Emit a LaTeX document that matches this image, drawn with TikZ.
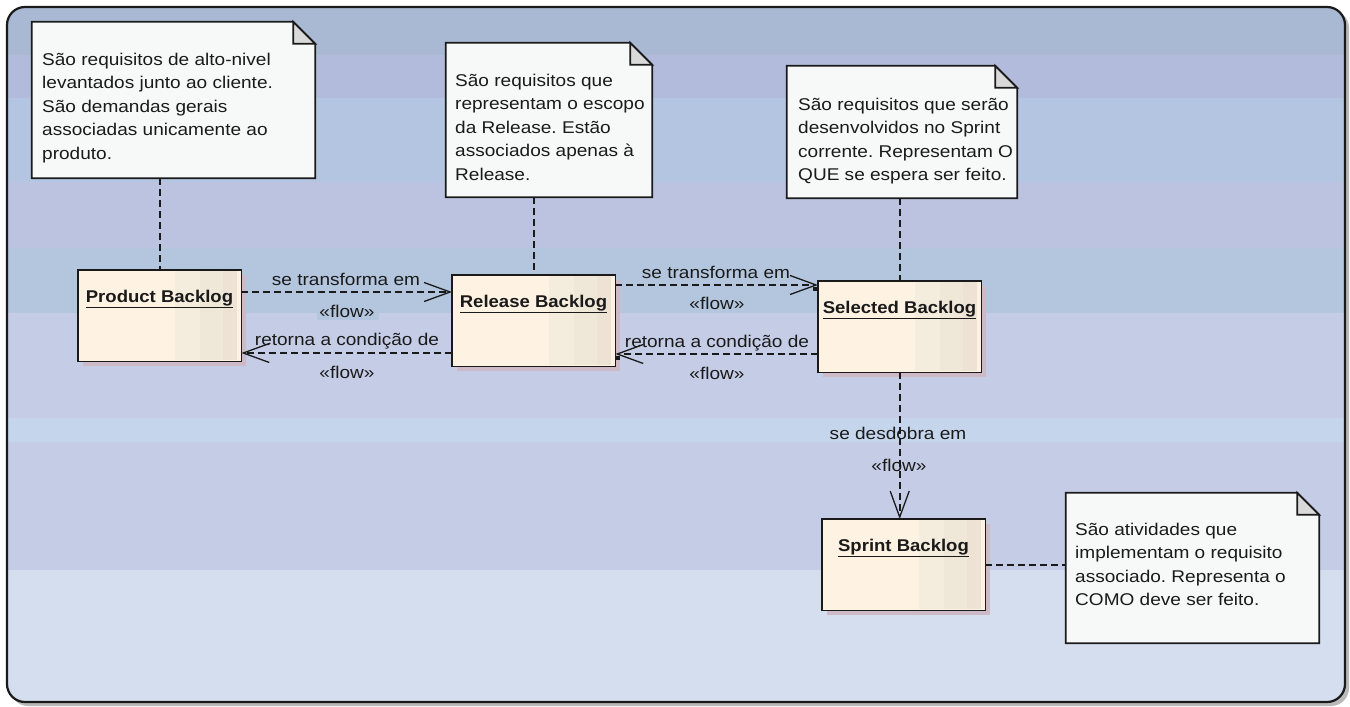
\documentclass[tikz,border=0pt]{standalone}
\usepackage{fontspec}
\setmainfont{Liberation Sans}
\newfontfamily\txtf[FakeStretch=1.12]{Liberation Sans}
\newfontfamily\ttlf[FakeStretch=1.09]{Liberation Sans}
\usetikzlibrary{arrows.meta,fit}
\frenchspacing
\definecolor{bandA}{HTML}{A9B9D3}
\definecolor{bandB}{HTML}{B2BBDB}
\definecolor{bandC}{HTML}{B3C5E1}
\definecolor{bandD}{HTML}{BCC3E0}
\definecolor{bandE}{HTML}{B3C6DE}
\definecolor{bandF}{HTML}{C5CCE6}
\definecolor{bandG}{HTML}{C5D5EC}
\definecolor{bandH}{HTML}{D5DEEF}
\definecolor{creamc}{HTML}{FEF2E2}
\definecolor{stripA}{HTML}{F4ECDC}
\definecolor{stripB}{HTML}{EFE8D8}
\definecolor{stripC}{HTML}{EDE2D4}
\definecolor{shadowc}{HTML}{CDBAC6}
\definecolor{notefill}{HTML}{F7F9F9}
\definecolor{foldc}{HTML}{D9D9D9}
\definecolor{inkc}{HTML}{1A1A1A}
\tikzset{
  dsh/.style={draw=inkc, line width=1.7pt, dash pattern=on 7pt off 4pt},
  flowarr/.style={dsh, -{Straight Barb[length=26pt,width=19pt,line width=1.3pt]}},
  boxst/.style={inner sep=0pt, minimum width=163pt, minimum height=91pt, fill=creamc, draw=none},
  ttlst/.style={inner sep=0pt, font=\ttlf\bfseries\fontsize{17}{20}\selectfont, text=inkc},
  lbl/.style={inner sep=0pt, anchor=base, font=\txtf\fontsize{17}{20}\selectfont, text=inkc},
  notest/.style={draw=inkc, line width=1.7pt, fill=notefill},
  ntxt/.style={inner sep=0pt, anchor=base west, text=inkc}
}
\newcommand\ntext[1]{\parbox[t]{300pt}{\txtf\fontsize{17}{23.6}\selectfont\raggedright\frenchspacing #1}}
\newcommand\bklog[4]{%
  \fill[shadowc] (#2+5,#3+5) rectangle (#2+168,#3+96);
  \node[boxst, anchor=north west] (#1) at (#2,#3) {};
  \fill[stripA] (#2+97,#3+1) rectangle (#2+122,#3+90);
  \fill[stripB] (#2+122,#3+1) rectangle (#2+145,#3+90);
  \fill[stripC] (#2+145,#3+1) rectangle (#2+159,#3+90);
  \draw[draw=inkc, line width=1.7pt] (#1.north west) rectangle (#1.south east);
  \node[ttlst, anchor=base] (#1t) at (#2+81.5,#3+32) {\underline{#4}};
}
\newcommand\notebox[5]{%
  \node[fit={(#2,#3) (#4,#5)}, inner sep=0pt] (#1) {};
  \draw[notest] (#1.north west) -- ([xshift=-22pt]#1.north east) -- ([yshift=-22pt]#1.north east) -- (#1.south east) -- (#1.south west) -- cycle;
  \filldraw[draw=inkc, line width=1.7pt, fill=foldc, line join=miter] ([xshift=-22pt]#1.north east) -- ([xshift=-22pt,yshift=-22pt]#1.north east) -- ([yshift=-22pt]#1.north east) -- cycle;
}
\begin{document}
\begin{tikzpicture}[x=1pt,y=-1pt]
\useasboundingbox (0,0) rectangle (1350,707);
% frame shadow
\fill[gray!55, rounded corners=18pt] (10,10) rectangle (1349,706);
\begin{scope}
\clip[rounded corners=18pt] (7,7) rectangle (1345,702);
\fill[bandA] (0,0) rectangle (1350,55);
\fill[bandB] (0,55) rectangle (1350,98);
\fill[bandC] (0,98) rectangle (1350,182);
\fill[bandD] (0,182) rectangle (1350,248);
\fill[bandE] (0,248) rectangle (1350,313);
\fill[bandF] (0,313) rectangle (1350,418);
\fill[bandG] (0,418) rectangle (1350,442);
\fill[bandF] (0,442) rectangle (1350,570);
\fill[bandH] (0,570) rectangle (1350,707);
\end{scope}
\draw[draw=inkc, line width=2.2pt, rounded corners=18pt] (7,7) rectangle (1345,702);

% notes
\notebox{n1}{32}{22}{315}{178}
\notebox{n2}{446}{43}{652}{197}
\notebox{n3}{787}{66}{1017}{198}
\notebox{n4}{1066}{493}{1319}{643}
\node[ntxt] (n1t) at (42,65) {\ntext{São requisitos de alto-nivel\\levantados junto ao cliente.\\São demandas gerais\\associadas unicamente ao\\produto.}};
\node[ntxt] (n2t) at (455,86) {\ntext{São requisitos que\\representam o escopo\\da Release. Estão\\associados apenas à\\Release.}};
\node[ntxt] (n3t) at (798,110) {\ntext{São requisitos que serão\\desenvolvidos no Sprint\\corrente. Representam O\\QUE se espera ser feito.}};
\node[ntxt] (n4t) at (1075,535) {\ntext{São atividades que\\implementam o requisito\\associado. Representa o\\COMO deve ser feito.}};

% backlogs
\bklog{pb}{78}{270}{Product Backlog}
\bklog{rb}{452}{275}{Release Backlog}
\bklog{sb}{818}{281}{Selected Backlog}
\bklog{sp}{822}{519}{Sprint Backlog}

% note connectors
\draw[dsh] (pb.north |- n1.south) -- (pb.north);
\draw[dsh] (rb.north |- n2.south) -- (rb.north);
\draw[dsh] (sb.north |- n3.south) -- (sb.north);
\draw[dsh] (sp.east) -- (sp.east -| n4.west);

% flows
\coordinate (ya) at (0,292);
\coordinate (yb) at (0,353);
\coordinate (yc) at (0,285);
\coordinate (yd) at (0,354);
\draw[flowarr] (pb.east |- ya) -- (rb.west |- ya);
\draw[flowarr] (rb.west |- yb) -- (pb.east |- yb);
\draw[flowarr] (rb.east |- yc) -- (sb.west |- yc);
\draw[flowarr] (sb.west |- yd) -- (rb.east |- yd);
\draw[flowarr] (sb.south) -- (sb.south |- sp.north);
\fill[inkc] ([xshift=-5pt,yshift=-2pt]sb.west |- yc) rectangle ++(4,4);
\fill[inkc] ([xshift=1pt,yshift=-2pt]rb.east |- yd) rectangle ++(4,4);

% labels
\fill[bandE] (317,305) rectangle (379,320);
\node[lbl] (l1) at (346,285) {se transforma em};
\node[lbl] (l1f) at (347,317) {«flow»};
\node[lbl] (l2) at (347,345) {retorna a condição de};
\node[lbl] (l2f) at (347,378) {«flow»};
\node[lbl] (l3) at (716,278) {se transforma em};
\node[lbl] (l3f) at (717,309) {«flow»};
\node[lbl] (l4) at (717,347) {retorna a condição de};
\node[lbl] (l4f) at (717,379) {«flow»};
\node[lbl] (l5) at (898,439) {se desdobra em};
\node[lbl] (l5f) at (899,471) {«flow»};
\end{tikzpicture}
\end{document}
